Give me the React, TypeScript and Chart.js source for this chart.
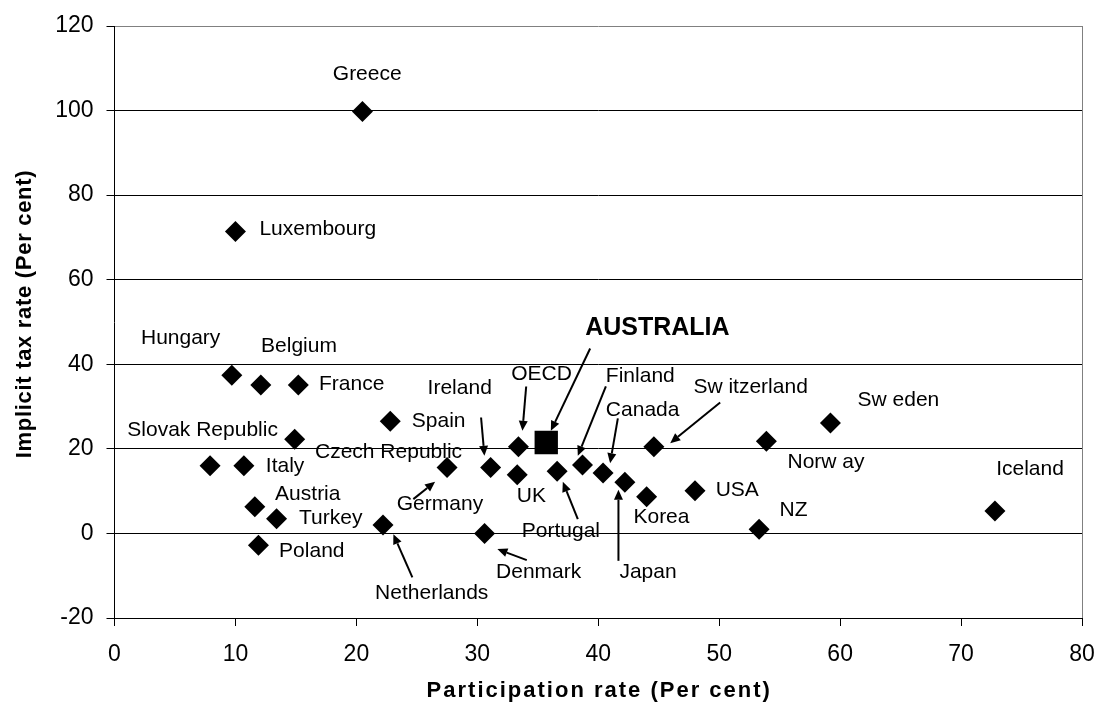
import React, { useEffect, useRef } from "react";
import { Chart, registerables } from "chart.js";

Chart.register(...registerables);

// ---- Data ----
const countries = [
  "Greece", "Luxembourg", "Hungary", "Belgium", "France", "Czech Republic", "Spain",
  "Slovak Republic", "Italy", "Austria", "Turkey", "Poland", "Netherlands", "Germany",
  "Ireland", "OECD", "UK", "Portugal", "Finland", "Canada", "Japan", "Korea",
  "Switzerland", "USA", "Denmark", "Norway", "NZ", "Sweden", "Iceland",
];
const participationRate = [
  20.5, 10.0, 9.7, 12.1, 15.2, 14.9, 22.8,
  7.9, 10.7, 11.6, 13.4, 11.9, 22.2, 27.5,
  31.1, 33.4, 33.3, 36.6, 38.7, 40.4, 42.2, 44.0,
  44.6, 48.0, 30.6, 53.9, 53.3, 59.2, 72.8,
];
const implicitTaxRate = [
  99.8, 71.4, 37.4, 35.1, 35.1, 22.3, 26.5,
  16.0, 16.0, 6.3, 3.5, -2.8, 2.0, 15.6,
  15.6, 20.5, 13.9, 14.7, 16.2, 14.3, 12.1, 8.7,
  20.5, 10.1, 0.0, 21.8, 1.0, 26.1, 5.3,
];
const australiaName = ["AUSTRALIA"];
const australiaParticipation = [35.7];
const australiaTaxRate = [21.5];

const xTickValues = [0, 10, 20, 30, 40, 50, 60, 70, 80];
const yTickValues = [-20, 0, 20, 40, 60, 80, 100, 120];

const xTitle = "Participation rate (Per cent)";
const yTitle = "Implicit tax rate (Per cent)";

// ---- Annotation placement (data units: left edge / vertical centre of text) ----
const labelTexts = [
  "Greece", "Luxembourg", "Hungary", "Belgium", "France", "Slovak Republic", "Spain",
  "Czech Republic", "Italy", "Austria", "Turkey", "Poland", "Netherlands", "Germany",
  "Ireland", "OECD", "Finland", "Canada", "Sw itzerland", "Sw eden", "Norw ay",
  "Iceland", "UK", "Portugal", "Korea", "USA", "NZ", "Denmark", "Japan",
];
const labelX = [
  18.05, 11.98, 2.19, 12.12, 16.91, 1.06, 24.58,
  16.58, 12.51, 13.28, 15.26, 13.61, 21.55, 23.34,
  25.89, 32.8, 40.63, 40.63, 47.87, 61.44, 55.65,
  72.9, 33.27, 33.68, 42.91, 49.71, 54.99, 31.55, 41.75,
];
const labelY = [
  108.6, 71.9, 46.1, 44.35, 35.3, 24.4, 26.6,
  19.15, 16.0, 9.3, 3.6, -4.26, -14.1, 6.9,
  34.35, 37.66, 37.26, 29.15, 34.5, 31.6, 16.8,
  15.2, 8.9, 0.6, 3.8, 10.2, 5.6, -9.1, -9.2,
];
const australiaLabelX = [38.92];
const australiaLabelY = [48.46];

// arrows: start (x1,y1) -> head (x2,y2), data units
const arrowX1 = [24.63, 24.71, 30.31, 34.04, 39.33, 40.63, 41.62, 50.08, 38.31, 41.67, 34.09];
const arrowY1 = [-10.4, 8.11, 27.42, 34.75, 43.74, 34.75, 27.19, 30.97, 3.38, -6.48, -6.31];
const arrowX2 = [23.06, 26.51, 30.59, 33.73, 36.08, 38.31, 40.98, 45.95, 37.07, 41.67, 31.66];
const arrowY2 = [-0.17, 12.2, 18.35, 24.26, 24.26, 18.35, 16.6, 21.35, 12.2, 10.3, -3.71];

const FONT = "'Liberation Sans', Arial, Helvetica, sans-serif";

const annotatePlugin = {
  id: "annotate",
  afterDatasetsDraw(chart: any) {
    const { ctx, chartArea, scales } = chart;
    const xs = scales.x;
    const ys = scales.y;
    ctx.save();
    // right frame line (grey)
    ctx.strokeStyle = "#808080";
    ctx.lineWidth = 1;
    const rx = Math.round(chartArea.right) + 0.5;
    ctx.beginPath();
    ctx.moveTo(rx, chartArea.top);
    ctx.lineTo(rx, chartArea.bottom);
    ctx.stroke();

    // labels
    ctx.fillStyle = "#000";
    ctx.textAlign = "left";
    ctx.textBaseline = "middle";
    ctx.font = `21px ${FONT}`;
    for (let i = 0; i < labelTexts.length; i++) {
      ctx.fillText(labelTexts[i], xs.getPixelForValue(labelX[i]), ys.getPixelForValue(labelY[i]));
    }
    ctx.font = `bold 25px ${FONT}`;
    ctx.fillText(
      australiaName[0],
      xs.getPixelForValue(australiaLabelX[0]),
      ys.getPixelForValue(australiaLabelY[0])
    );

    // arrows
    ctx.strokeStyle = "#000";
    ctx.lineWidth = 2;
    for (let i = 0; i < arrowX1.length; i++) {
      const x1 = xs.getPixelForValue(arrowX1[i]);
      const y1 = ys.getPixelForValue(arrowY1[i]);
      const x2 = xs.getPixelForValue(arrowX2[i]);
      const y2 = ys.getPixelForValue(arrowY2[i]);
      const ang = Math.atan2(y2 - y1, x2 - x1);
      const headLen = 10;
      const headW = 4.5;
      const bx = x2 - headLen * Math.cos(ang);
      const by = y2 - headLen * Math.sin(ang);
      ctx.beginPath();
      ctx.moveTo(x1, y1);
      ctx.lineTo(bx, by);
      ctx.stroke();
      ctx.beginPath();
      ctx.moveTo(x2, y2);
      ctx.lineTo(bx + headW * Math.sin(ang), by - headW * Math.cos(ang));
      ctx.lineTo(bx - headW * Math.sin(ang), by + headW * Math.cos(ang));
      ctx.closePath();
      ctx.fill();
    }

    // axis titles
    ctx.font = `bold 22px ${FONT}`;
    ctx.textAlign = "center";
    ctx.textBaseline = "middle";
    (ctx as any).letterSpacing = "2px";
    ctx.fillText(xTitle, (chartArea.left + chartArea.right) / 2 + 1, 691);
    (ctx as any).letterSpacing = "0.7px";
    ctx.save();
    ctx.translate(25, 314);
    ctx.rotate(-Math.PI / 2);
    ctx.fillText(yTitle, 0, 0);
    ctx.restore();
    ctx.restore();
  },
};

export default function App() {
  const canvasRef = useRef<HTMLCanvasElement | null>(null);

  useEffect(() => {
    const canvas = canvasRef.current;
    if (!canvas) return;
    const diamonds = countries.map((_, i) => ({ x: participationRate[i], y: implicitTaxRate[i] }));
    const aus = australiaParticipation.map((v, i) => ({ x: v, y: australiaTaxRate[i] }));

    const chart = new Chart(canvas, {
      type: "scatter",
      data: {
        datasets: [
          {
            label: "Countries",
            data: diamonds,
            pointStyle: "rectRot",
            pointRadius: 10.5,
            pointBackgroundColor: "#000",
            pointBorderColor: "#000",
            pointBorderWidth: 0,
          },
          {
            label: australiaName[0],
            data: aus,
            pointStyle: "rect",
            pointRadius: 16.5,
            pointBackgroundColor: "#000",
            pointBorderColor: "#000",
            pointBorderWidth: 0,
          },
        ],
      },
      options: {
        responsive: false,
        animation: false,
        devicePixelRatio: 1,
        layout: { padding: { top: 26, right: 18, left: 0, bottom: 0 } },
        plugins: {
          legend: { display: false },
          tooltip: { enabled: false },
        },
        events: [],
        scales: {
          x: {
            type: "linear",
            min: xTickValues[0],
            max: xTickValues[xTickValues.length - 1],
            afterFit: (s: any) => {
              s.height = 97;
              s.paddingLeft = 0;
              s.paddingRight = 0;
            },
            afterBuildTicks: (s: any) => {
              s.ticks = xTickValues.map((v) => ({ value: v }));
            },
            ticks: {
              color: "#000",
              font: { family: FONT, size: 23 },
              padding: 15,
              maxRotation: 0,
            },
            grid: {
              drawOnChartArea: false,
              drawTicks: true,
              tickLength: 8,
              color: "#000",
              tickColor: "#000",
            },
            border: { display: true, color: "#000", width: 1 },
          },
          y: {
            type: "linear",
            min: yTickValues[0],
            max: yTickValues[yTickValues.length - 1],
            afterFit: (s: any) => {
              s.width = 114.5;
              s.paddingTop = 0;
              s.paddingBottom = 0;
            },
            afterBuildTicks: (s: any) => {
              s.ticks = yTickValues.map((v) => ({ value: v }));
            },
            ticks: {
              color: "#000",
              font: { family: FONT, size: 23 },
              padding: 13,
            },
            grid: {
              drawTicks: true,
              tickLength: 8,
              color: (c: any) => (c.tick && c.tick.value === 120 ? "#808080" : "#000"),
              tickColor: "#000",
              lineWidth: 1,
            },
            border: { display: true, color: "#000", width: 1 },
          },
        },
      },
      plugins: [annotatePlugin],
    });
    return () => chart.destroy();
  }, []);

  return (
    <div style={{ position: "absolute", left: 0, top: 0, width: 1100, height: 715, background: "#fff" }}>
      <canvas ref={canvasRef} width={1100} height={715} style={{ display: "block" }} />
    </div>
  );
}
